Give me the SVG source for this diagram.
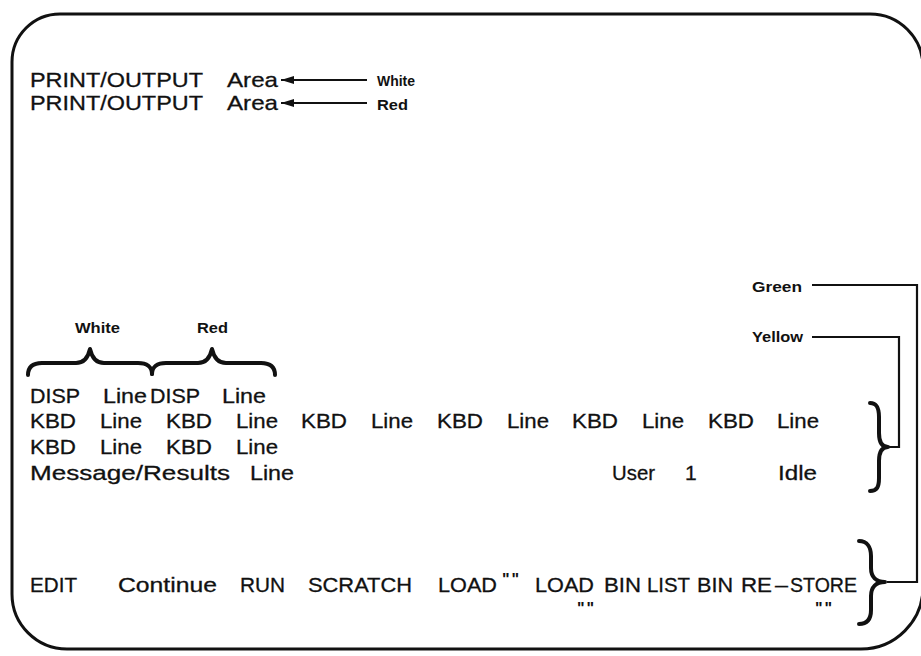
<svg xmlns="http://www.w3.org/2000/svg" width="921" height="656" viewBox="0 0 921 656">
<style>
.t{font-family:"Liberation Sans",Arial,sans-serif;font-size:21px;fill:#111;stroke:#111;stroke-width:0.3}
.l{font-family:"Liberation Sans",Arial,sans-serif;font-size:15px;font-weight:bold;fill:#111}
.q{font-family:"Liberation Sans",Arial,sans-serif;font-size:16px;font-weight:bold;fill:#111;letter-spacing:2px}
.ln{fill:none;stroke:#111;stroke-width:2.2}
.br{fill:none;stroke:#111;stroke-width:4;stroke-linecap:round;stroke-linejoin:round}
.fr{fill:none;stroke:#111;stroke-width:3}
</style>
<defs>
<marker id="ah" markerUnits="userSpaceOnUse" markerWidth="14" markerHeight="9" refX="13" refY="4.5" orient="auto">
<path d="M0,0.5 L13,4.5 L0,8.5 Z" fill="#111"/>
</marker>
</defs>
<rect width="921" height="656" fill="#fff"/>
<g id="frame">
<path class="fr" d="M60,14 H870 A53,53 0 0 1 923,67 V587 A62,62 0 0 1 861,649 H67 A55,55 0 0 1 12,594 V62 A48,48 0 0 1 60,14 Z"/>
</g>
<g id="print-white">
<text class="t" y="87"><tspan x="30" textLength="173" lengthAdjust="spacingAndGlyphs">PRINT/OUTPUT</tspan><tspan x="227" textLength="51" lengthAdjust="spacingAndGlyphs">Area</tspan></text>
</g>
<g id="print-red">
<text class="t" y="110"><tspan x="30" textLength="173" lengthAdjust="spacingAndGlyphs">PRINT/OUTPUT</tspan><tspan x="227" textLength="51" lengthAdjust="spacingAndGlyphs">Area</tspan></text>
</g>
<g id="label-white-top"><text class="l" x="377" y="86" textLength="38" lengthAdjust="spacingAndGlyphs">White</text></g>
<g id="label-red-top"><text class="l" x="377" y="110" textLength="31" lengthAdjust="spacingAndGlyphs">Red</text></g>
<g id="label-white-disp"><text class="l" x="75" y="333" textLength="45" lengthAdjust="spacingAndGlyphs">White</text></g>
<g id="label-red-disp"><text class="l" x="197" y="333" textLength="31" lengthAdjust="spacingAndGlyphs">Red</text></g>
<g id="brace-white"><path class="br" d="M28,375 C28,367 33,363 42,363 L76,363 C84,363 88,358 90,349 C92,358 96,363 104,363 L138,363 C147,363 152,367 152,374"/></g>
<g id="brace-red"><path class="br" d="M152,374 C152,367 157,363 166,363 L198,363 C206,363 210,358 212,349 C214,358 218,363 226,363 L261,363 C270,363 275,367 275,375"/></g>
<g id="disp-row">
<text class="t" y="403"><tspan x="30" textLength="50" lengthAdjust="spacingAndGlyphs">DISP</tspan><tspan x="103" textLength="44" lengthAdjust="spacingAndGlyphs">Line</tspan><tspan x="150" textLength="50" lengthAdjust="spacingAndGlyphs">DISP</tspan><tspan x="222" textLength="44" lengthAdjust="spacingAndGlyphs">Line</tspan></text>
</g>
<g id="kbd-row-1">
<text class="t" y="428"><tspan x="30" textLength="46" lengthAdjust="spacingAndGlyphs">KBD</tspan><tspan x="100" textLength="42" lengthAdjust="spacingAndGlyphs">Line</tspan><tspan x="166" textLength="46" lengthAdjust="spacingAndGlyphs">KBD</tspan><tspan x="236" textLength="42" lengthAdjust="spacingAndGlyphs">Line</tspan><tspan x="301" textLength="46" lengthAdjust="spacingAndGlyphs">KBD</tspan><tspan x="371" textLength="42" lengthAdjust="spacingAndGlyphs">Line</tspan><tspan x="437" textLength="46" lengthAdjust="spacingAndGlyphs">KBD</tspan><tspan x="507" textLength="42" lengthAdjust="spacingAndGlyphs">Line</tspan><tspan x="572" textLength="46" lengthAdjust="spacingAndGlyphs">KBD</tspan><tspan x="642" textLength="42" lengthAdjust="spacingAndGlyphs">Line</tspan><tspan x="708" textLength="46" lengthAdjust="spacingAndGlyphs">KBD</tspan><tspan x="777" textLength="42" lengthAdjust="spacingAndGlyphs">Line</tspan></text>
</g>
<g id="kbd-row-2">
<text class="t" y="454"><tspan x="30" textLength="46" lengthAdjust="spacingAndGlyphs">KBD</tspan><tspan x="100" textLength="42" lengthAdjust="spacingAndGlyphs">Line</tspan><tspan x="166" textLength="46" lengthAdjust="spacingAndGlyphs">KBD</tspan><tspan x="236" textLength="42" lengthAdjust="spacingAndGlyphs">Line</tspan></text>
</g>
<g id="message-row">
<text class="t" y="480"><tspan x="30" textLength="200" lengthAdjust="spacingAndGlyphs">Message/Results</tspan><tspan x="250" textLength="44" lengthAdjust="spacingAndGlyphs">Line</tspan><tspan x="612" textLength="43" lengthAdjust="spacingAndGlyphs">User</tspan><tspan x="685">1</tspan><tspan x="778" textLength="39" lengthAdjust="spacingAndGlyphs">Idle</tspan></text>
</g>
<g id="label-green"><text class="l" x="752" y="292" textLength="50" lengthAdjust="spacingAndGlyphs">Green</text></g>
<g id="label-yellow"><text class="l" x="752" y="342" textLength="51" lengthAdjust="spacingAndGlyphs">Yellow</text></g>
<g id="brace-yellow"><path class="br" d="M870,403 C877,403 879,408 879,417 L879,433 C879,442 882,447 888,447 C882,447 879,452 879,461 L879,478 C879,487 877,491 870,491"/></g>
<g id="brace-green"><path class="br" d="M859,541 C867,541 871,547 871,556 L871,568 C871,577 876,582 885,582 C876,582 871,587 871,596 L871,610 C871,619 867,624 859,624"/></g>
<g id="softkeys">
<text class="t" y="592"><tspan x="30" textLength="47" lengthAdjust="spacingAndGlyphs">EDIT</tspan><tspan x="118" textLength="99" lengthAdjust="spacingAndGlyphs">Continue</tspan><tspan x="240" textLength="45" lengthAdjust="spacingAndGlyphs">RUN</tspan><tspan x="308" textLength="104" lengthAdjust="spacingAndGlyphs">SCRATCH</tspan><tspan x="438" textLength="59" lengthAdjust="spacingAndGlyphs">LOAD</tspan><tspan x="535" textLength="59" lengthAdjust="spacingAndGlyphs">LOAD</tspan><tspan x="604" textLength="37" lengthAdjust="spacingAndGlyphs">BIN</tspan><tspan x="647" textLength="43" lengthAdjust="spacingAndGlyphs">LIST</tspan><tspan x="697" textLength="36" lengthAdjust="spacingAndGlyphs">BIN</tspan><tspan x="741" textLength="31" lengthAdjust="spacingAndGlyphs">RE</tspan><tspan x="775" textLength="13" lengthAdjust="spacingAndGlyphs">–</tspan><tspan x="790" textLength="67" lengthAdjust="spacingAndGlyphs">STORE</tspan></text>
<text class="q" x="502" y="585">""</text>
<text class="q" x="577" y="614">""</text>
<text class="q" x="815" y="614">""</text>
</g>
<g id="connectors">
<line class="ln" x1="367" y1="80" x2="281" y2="80" marker-end="url(#ah)"/>
<line class="ln" x1="367" y1="103" x2="281" y2="103" marker-end="url(#ah)"/>
<path class="ln" d="M812,285 H917 V582 H887"/>
<path class="ln" d="M812,337 H899 V447 H889"/>
</g>
</svg>
